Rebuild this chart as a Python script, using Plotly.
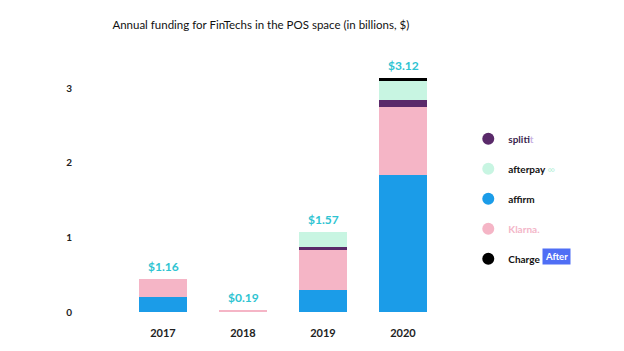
import plotly.graph_objects as go

years = ["2017", "2018", "2019", "2020"]
affirm = [0.20, 0.00, 0.30, 1.84]
klarna = [0.24, 0.03, 0.53, 0.91]
splitit = [0.00, 0.00, 0.04, 0.085]
afterpay = [0.00, 0.00, 0.20, 0.26]
chargeafter = [0.00, 0.00, 0.00, 0.045]
total_labels = ["$1.16", "$0.19", "$1.57", "$3.12"]

series = [
    ("affirm", affirm, "#1b9ce8"),
    ("klarna", klarna, "#f5b5c6"),
    ("splitit", splitit, "#5a2a6a"),
    ("afterpay", afterpay, "#c8f5e2"),
    ("chargeafter", chargeafter, "#000000"),
]

legend_names = {
    "splitit": "<b><span style='color:#3a1f4d'>split</span><span style='color:#c8b2e3'>it</span></b>",
    "afterpay": "<b>afterpay</b><span style='color:#b8efd9'> ∞</span>",
    "affirm": "<b>affirm</b>",
    "klarna": "<b><span style='color:#f3b6c8'>Klarna.</span></b>",
    "chargeafter": "<b>Charge</b>",
}
legend_rank = {"splitit": 1, "afterpay": 2, "affirm": 3, "klarna": 4, "chargeafter": 5}

fig = go.Figure()
for name, vals, color in series:
    fig.add_trace(go.Bar(x=years, y=vals, marker=dict(color=color, line=dict(width=0)),
                         width=0.6, showlegend=False, name=name))

totals = [sum(v[i] for _, v, _ in series) for i in range(len(years))]
for i, (tot, lab) in enumerate(zip(totals, total_labels)):
    fig.add_annotation(x=i, y=tot, text=f"<b>{lab}</b>", showarrow=False,
                       yanchor="bottom", yshift=3,
                       font=dict(family="Lato, sans-serif", size=12, color="#2ec4d2"))

for name, vals, color in series:
    fig.add_trace(go.Scatter(x=[None], y=[None], mode="markers",
                             marker=dict(symbol="circle", size=12, color=color),
                             name=legend_names[name], legendrank=legend_rank[name],
                             legendgroup=name, showlegend=True))

fig.add_annotation(xref="paper", yref="paper", x=1.31, y=0.223, xanchor="left", yanchor="middle",
                   text="<b>After</b>", showarrow=False, bgcolor="#4f6ef5",
                   font=dict(family="Lato, sans-serif", size=9.5, color="white"), borderpad=2)

fig.update_layout(
    width=624, height=351,
    margin=dict(l=123, r=181, t=65, b=39),
    paper_bgcolor="white", plot_bgcolor="white",
    barmode="stack",
    title=dict(text="Annual funding for FinTechs in the POS space (in billions, $)",
               x=0.418, xanchor="center", y=0.93, yanchor="middle",
               font=dict(family="Lato, sans-serif", size=11.5, color="#111111")),
    font=dict(family="Lato, sans-serif", color="#222222"),
    xaxis=dict(showgrid=False, showline=False, zeroline=False, ticks="",
               tickfont=dict(size=11, color="#222222", weight="bold"),
               ticklabelstandoff=13, range=[-0.5, 3.5]),
    yaxis=dict(showgrid=False, showline=False, zeroline=False, ticks="",
               tickvals=[0, 1, 2, 3], tickfont=dict(size=10, color="#222222", weight="bold"),
               ticklabelstandoff=50, range=[0, 3.308]),
    legend=dict(x=1.079, y=0.76, xanchor="left", yanchor="top", traceorder="grouped",
                tracegroupgap=11, font=dict(size=10, color="#111111"),
                bgcolor="rgba(0,0,0,0)"),
)

fig.write_html("out.html")
